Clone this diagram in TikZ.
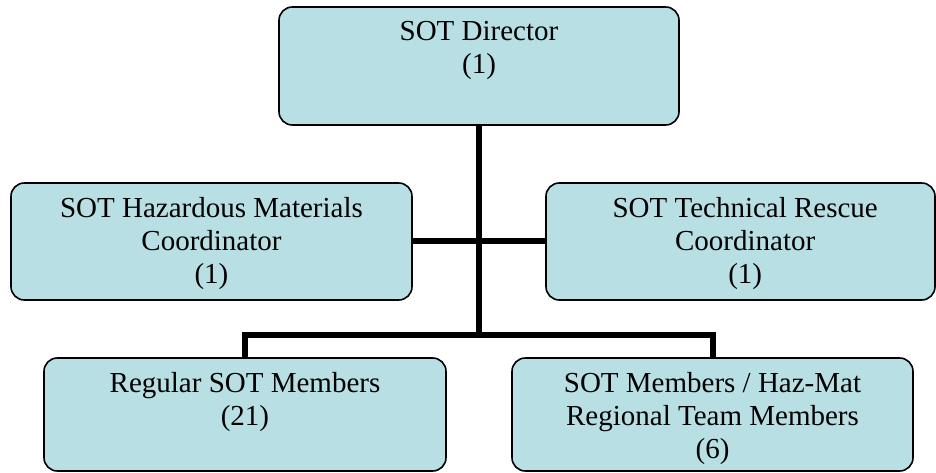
\documentclass[tikz,border=0pt]{standalone}
\usepackage{fontspec}
\setmainfont{Liberation Serif}
\usetikzlibrary{positioning}
\definecolor{boxfill}{RGB}{184,223,227}

\begin{document}
\begin{tikzpicture}[x=0.75pt,y=0.75pt,
  orgbox/.style={draw=black, line width=1.2pt, fill=boxfill, rounded corners=10pt, inner sep=0pt},
  orgtext/.style={align=center, inner sep=0pt, font=\fontsize{21.75}{25}\selectfont},
  link/.style={line width=4.5pt}]
  \useasboundingbox (0,0) rectangle (936,472);
  % boxes
  \node[orgbox, minimum width=300pt, minimum height=88.5pt] (dir) at (479,406) {};
  \node[orgbox, minimum width=300.75pt, minimum height=87.75pt] (haz) at (211.5,230.5) {};
  \node[orgbox, minimum width=291.75pt, minimum height=87.75pt] (tech) at (740.5,230.5) {};
  \node[orgbox, minimum width=301.5pt, minimum height=84.75pt] (reg) at (245,57.5) {};
  \node[orgbox, minimum width=300.75pt, minimum height=84.75pt] (sotm) at (712.5,57.5) {};
  % links
  \coordinate (split) at (479,137);
  \draw[link] (dir.south) -- (split);
  \draw[link] (haz.east) -- (tech.west);
  \draw[link] (reg.north) |- (split) -| (sotm.north);
  % texts
  \node[orgtext, below=11pt of dir.north] (dirtext) {SOT Director\\(1)};
  \node[orgtext, below=11pt of haz.north] (haztext) {SOT Hazardous Materials\\Coordinator\\(1)};
  \node[orgtext, below=11pt of tech.north, xshift=3.5pt] (techtext) {SOT Technical Rescue\\Coordinator\\(1)};
  \node[orgtext, below=11pt of reg.north] (regtext) {Regular SOT Members\\(21)};
  \node[orgtext, below=11pt of sotm.north] (sotmtext) {SOT Members / Haz-Mat\\Regional Team Members\\(6)};
\end{tikzpicture}
\end{document}
